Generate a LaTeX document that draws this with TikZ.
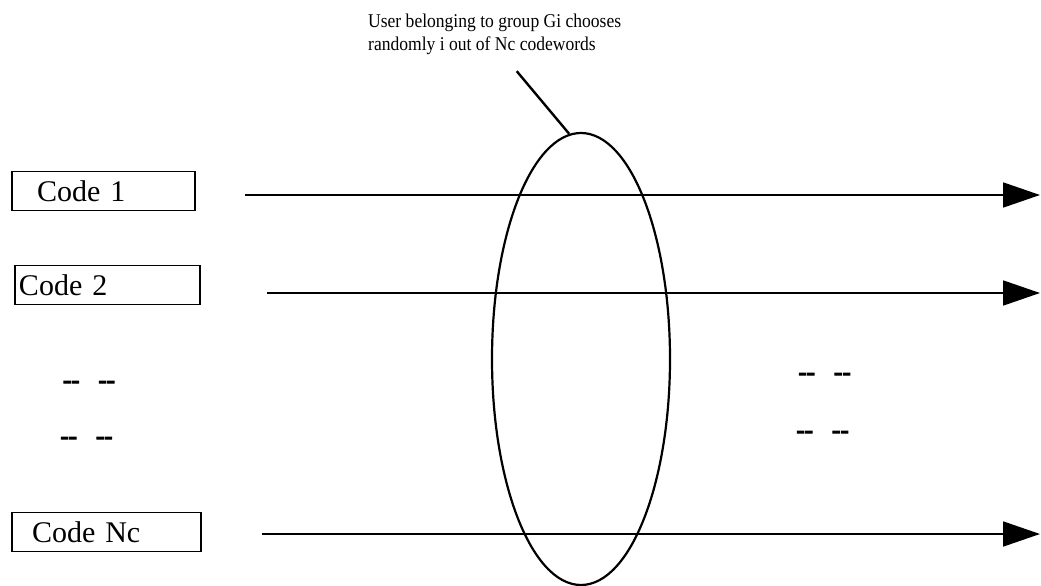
\documentclass[tikz,border=0pt]{standalone}
\usepackage{fontspec}
\setmainfont{Liberation Serif}
\newfontfamily\scanfont{Liberation Serif}[FakeStretch=0.9]
\newfontfamily\dashfont{Liberation Serif}[FakeBold=4]
\usetikzlibrary{arrows.meta,positioning,shapes.geometric}

\begin{document}
\begin{tikzpicture}[
    x=1pt, y=-1pt,
    >={Triangle[length=37pt,width=25pt]},
    codeblock/.style={draw, line width=1.8pt, align=left, minimum height=39pt, inner ysep=0pt, font=\fontsize{30}{30}\selectfont},
    note/.style={align=left, inner sep=0pt, font=\scanfont\fontsize{19.5}{23}\selectfont},
    gap/.style={inner sep=0pt, anchor=base, font=\dashfont\fontsize{25}{25}\selectfont},
    choice/.style={draw, ellipse, line width=2.2pt, inner sep=0pt, minimum width=178pt, minimum height=452pt},
    line/.style={->, line width=1.8pt}
]
\useasboundingbox (0,0) rectangle (1041,586);

% Codewords on the left, each one a box.
\node[codeblock, text width=133pt, inner xsep=25pt] (code1) at (103.5,191) {Code 1};
\node[codeblock, text width=177pt, inner xsep=4pt] (code2) at (107.5,285) {Code 2};
\node[codeblock, text width=149pt, inner xsep=20pt] (codeNc) at (106.5,532) {Code Nc};

% Omitted codewords.
\node[gap] (skipL1) at (89,388) {-{}-\hspace{19pt}-{}-};
\node[gap] (skipL2) at (86.5,444) {-{}-\hspace{19pt}-{}-};
\node[gap] (skipR1) at (824.5,380) {-{}-\hspace{19pt}-{}-};
\node[gap] (skipR2) at (822.5,438) {-{}-\hspace{19pt}-{}-};

% Random choice of one user across the codewords.
\node[choice] (pick) at (581,359) {};
\node[note, anchor=north west] (note) at (368,14) {User belonging to group Gi chooses\\randomly i out of Nc codewords};

% Ends of the codeword lines.
\coordinate (start1) at (245,195);
\coordinate (end1) at (1040,195);
\coordinate (start2) at (267,293);
\coordinate (end2) at (1040,293);
\coordinate (startNc) at (262,534);
\coordinate (endNc) at (1040,534);

% Arrows.
\draw[line] (start1) -- (end1);
\draw[line] (start2) -- (end2);
\draw[line] (startNc) -- (endNc);
\draw[line width=2.4pt] ([shift={(22,16)}]note.south) -- (pick.93);

\end{tikzpicture}
\end{document}
